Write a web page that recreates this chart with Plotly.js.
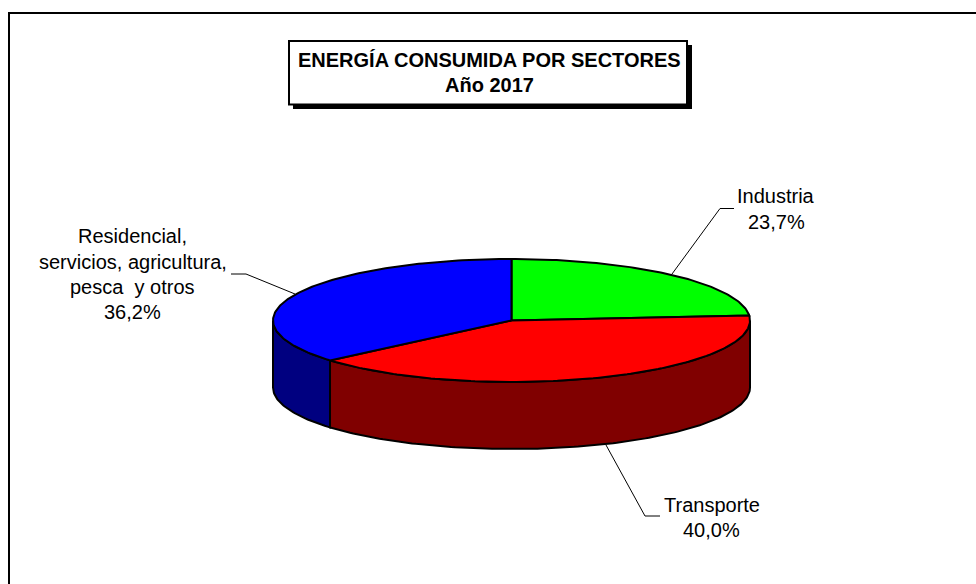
<!DOCTYPE html>
<html><head><meta charset="utf-8">
<script src="https://cdn.plot.ly/plotly-3.0.1.min.js"></script>
<style>html,body{margin:0;padding:0;background:#fff}</style></head>
<body><div id="chart" style="width:976px;height:584px"></div>
<script>
// Data (clockwise from the top of the pie)
const categories = ["Industria", "Transporte", "Residencial"];
const sectorValues = [23.7, 40.0, 36.2];
const valueLabels = ["23,7%", "40,0%", "36,2%"];
const topColors = ["#00FF00", "#FF0000", "#0000FF"];
const sideColors = ["#008000", "#800000", "#000080"];

// Pie projection
const cx = 511.5, cy = 320.5, rx = 238.5, ry = 61.5, depth = 67;
const total = sectorValues.reduce((a, b) => a + b, 0);
function rim(deg, dy) {
  const t = deg * Math.PI / 180;
  return [cx + rx * Math.sin(t), cy - ry * Math.cos(t) + (dy || 0)];
}
function arc(a, b, dy) {
  const pts = [], n = Math.max(2, Math.ceil(Math.abs(b - a)));
  for (let i = 0; i <= n; i++) pts.push(rim(a + (b - a) * i / n, dy));
  return pts;
}
function polygon(pts, color, name) {
  return { type: "scatter", mode: "lines", x: pts.map(p => p[0]), y: pts.map(p => p[1]),
    fill: "toself", fillcolor: color, line: { color: "#000", width: 2, shape: "linear" },
    hoverinfo: "skip", showlegend: false, name };
}

const traces = [];
let start = 0;
const spans = sectorValues.map(v => { const s = [start, start + v / total * 360]; start = s[1]; return s; });
spans.forEach((s, i) => {
  const a = Math.max(s[0], 90), b = Math.min(s[1], 270);
  if (b <= a) return;
  traces.push(polygon(arc(a, b, 0).concat(arc(b, a, depth)).concat([rim(a, 0)]), sideColors[i], categories[i] + " side"));
});
spans.forEach((s, i) => {
  traces.push(polygon([[cx, cy]].concat(arc(s[0], s[1], 0)).concat([[cx, cy]]), topColors[i], categories[i]));
});

const textFont = { family: "Liberation Sans, Arial, sans-serif", size: 20, color: "#000" };
function label(x, y, text, extra) {
  return Object.assign({ xref: "x", yref: "y", x, y, text, showarrow: false, align: "center",
    xanchor: "center", yanchor: "middle", font: textFont }, extra || {});
}
function seg(path, width, color) {
  return { type: "path", xref: "x", yref: "y", path, line: { color: color || "#000", width: width } };
}
const layout = {
  width: 976, height: 584, margin: { l: 0, r: 0, t: 0, b: 0 },
  paper_bgcolor: "#fff", plot_bgcolor: "#fff", showlegend: false,
  xaxis: { range: [0, 976], visible: false, fixedrange: true },
  yaxis: { range: [584, 0], visible: false, fixedrange: true },
  shapes: [
    seg("M9,584 L9,13 L976,13", 2),
    { type: "rect", xref: "x", yref: "y", x0: 293, y0: 45, x1: 692, y1: 109, fillcolor: "#000", line: { width: 0 } },
    { type: "rect", xref: "x", yref: "y", x0: 289, y0: 41, x1: 687, y1: 104.5, fillcolor: "#fff", line: { color: "#000", width: 2 } },
    seg("M734,208.5 L720,208.5 L672,274", 1),
    seg("M231,274 L246,274 L295,294", 1),
    seg("M606,445 L645,516 L660,516", 1)
  ],
  annotations: [
    label(489, 59.5, "<b>ENERGÍA CONSUMIDA POR SECTORES</b>"),
    label(489, 85, "<b>Año 2017</b>"),
    label(776, 195.5, categories[0]),
    label(776, 221.5, valueLabels[0]),
    label(711.5, 504.5, categories[1]),
    label(711.5, 529.5, valueLabels[1]),
    label(132.5, 236, "Residencial,"),
    label(132.5, 261.5, "servicios, agricultura,"),
    label(132.5, 287, "pesca  y otros"),
    label(132.5, 312, valueLabels[2])
  ]
};
Plotly.newPlot("chart", traces, layout, { displayModeBar: false, staticPlot: true });
</script></body></html>
